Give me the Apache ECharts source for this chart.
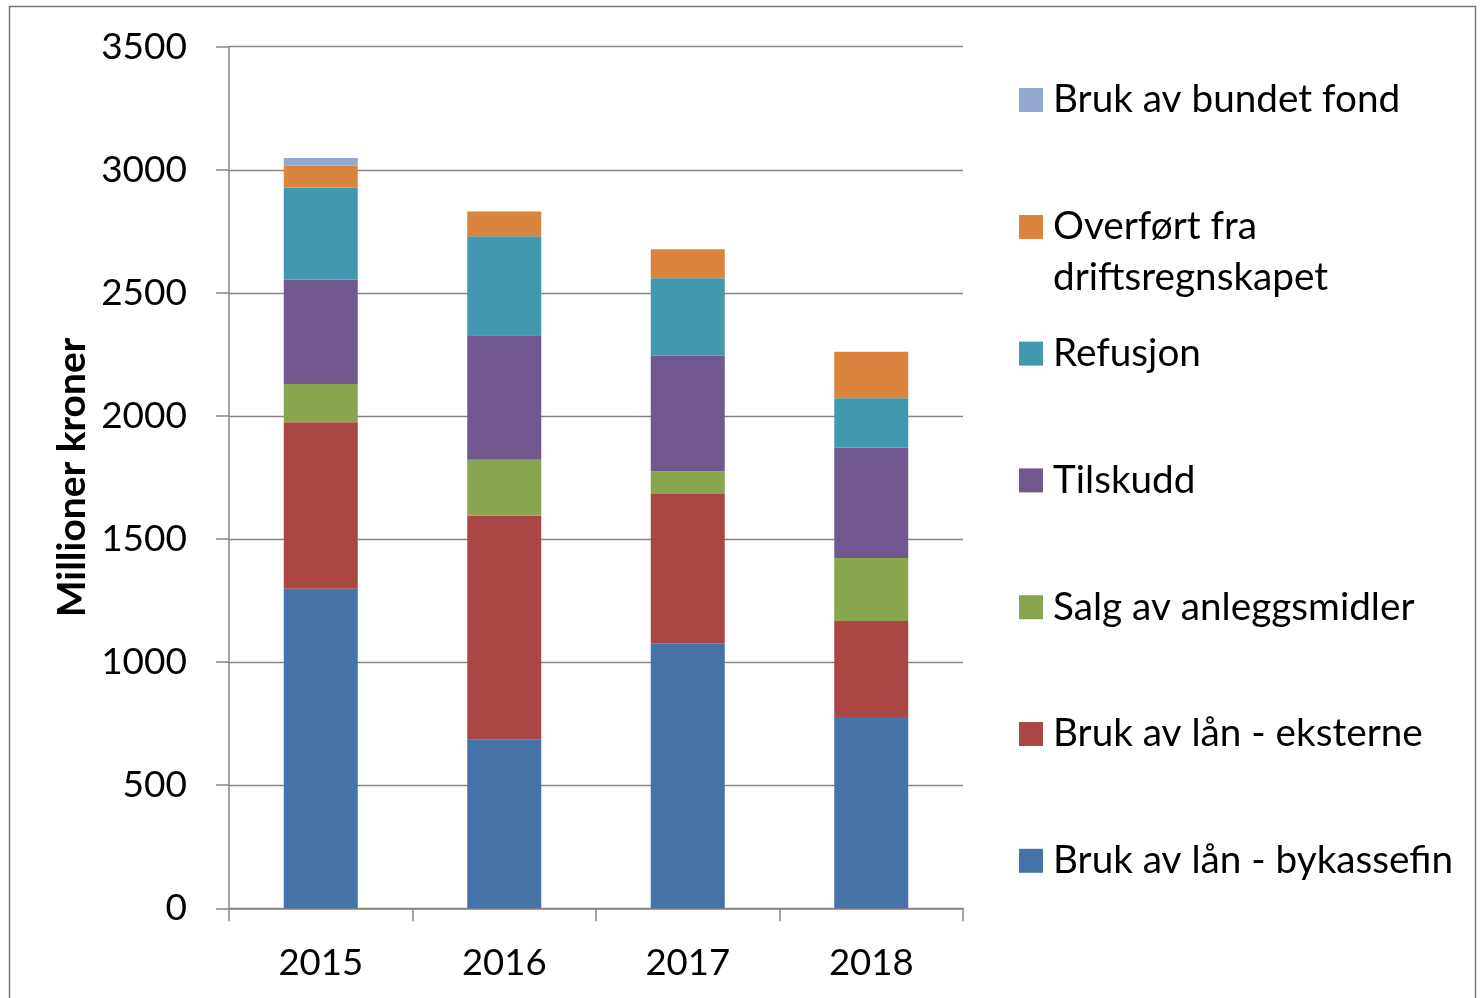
<!DOCTYPE html>
<html>
<head>
<meta charset="utf-8">
<script src="https://cdn.jsdelivr.net/npm/echarts@6/dist/echarts.min.js"></script>
<style>
  html, body { margin: 0; padding: 0; background: #ffffff; }
  #chart { width: 1481px; height: 998px; }
</style>
</head>
<body>
<div id="chart"></div>
<script>
// ---- data ----
const years = ['2015', '2016', '2017', '2018'];
const seriesNames = [
  'Bruk av lån - bykassefin',
  'Bruk av lån - eksterne',
  'Salg av anleggsmidler',
  'Tilskudd',
  'Refusjon',
  'Overført fra driftsregnskapet',
  'Bruk av bundet fond'
];
const bykassefin = [1298, 685, 1077, 777];
const eksterne   = [676, 910, 606, 390];
const salg       = [156, 227, 92, 256];
const tilskudd   = [424, 506, 470, 448];
const refusjon   = [373, 402, 314, 201];
const overfort   = [90, 101, 118, 189];
const bundetFond = [31, null, null, null];
const yTicks = [0, 500, 1000, 1500, 2000, 2500, 3000, 3500];

const seriesValues = [bykassefin, eksterne, salg, tilskudd, refusjon, overfort, bundetFond];
const colors = ['#4572A7', '#AA4643', '#89A54E', '#71588F', '#4198AF', '#DB843D', '#93A9CF'];

const FONT = 'Lato';
const chart = echarts.init(document.getElementById('chart'), null, { renderer: 'canvas' });

const series = seriesNames.map((name, i) => ({
  name: name,
  type: 'bar',
  stack: 'total',
  barWidth: 74,
  itemStyle: { color: colors[i] },
  emphasis: { disabled: true },
  data: seriesValues[i]
}));

// Legend: one component per entry, listed top-to-bottom in reverse series order
const legendCenters = [100, 227, 353.6, 480.4, 607.2, 734, 860.8];
const LH = 51;
const legendOrder = seriesNames.slice().reverse();
const legends = legendOrder.map((name, k) => {
  const twoLine = name === 'Overført fra driftsregnskapet';
  return {
    show: true,
    orient: 'vertical',
    left: 1019,
    top: twoLine ? legendCenters[k] - 1.5 * LH : legendCenters[k] - LH / 2,
    padding: 0,
    itemWidth: 24,
    itemHeight: 24,
    icon: 'rect',
    selectedMode: false,
    data: [name],
    // blank first line keeps the square level with the first text line
    formatter: twoLine ? function () { return ' \nOverført fra\ndriftsregnskapet'; } : undefined,
    textStyle: {
      fontFamily: FONT,
      fontSize: 38.7,
      color: '#000',
      lineHeight: LH,
      padding: [0, 0, 0, 5]
    }
  };
});

const option = {
  animation: false,
  backgroundColor: '#ffffff',
  color: colors,
  grid: { left: 229, right: 518, top: 46.7, bottom: 89.7, containLabel: false },
  legend: legends,
  xAxis: {
    type: 'category',
    data: years,
    axisLine: { show: true, lineStyle: { color: '#868686', width: 1.5 } },
    axisTick: { show: true, alignWithLabel: false, length: 13, lineStyle: { color: '#868686', width: 1.5 } },
    axisLabel: { fontFamily: FONT, fontSize: 36.5, color: '#000', margin: 36, lineHeight: 37 },
    splitLine: { show: false }
  },
  yAxis: {
    type: 'value',
    min: yTicks[0],
    max: yTicks[yTicks.length - 1],
    interval: 500,
    name: 'Millioner kroner',
    nameLocation: 'middle',
    nameGap: 137,
    nameTextStyle: { fontFamily: FONT, fontSize: 39, fontWeight: 'bold', color: '#000' },
    axisLine: { show: true, lineStyle: { color: '#868686', width: 1.5 } },
    axisTick: { show: true, inside: false, length: 13, lineStyle: { color: '#868686', width: 1.5 } },
    axisLabel: {
      fontFamily: FONT, fontSize: 37, color: '#000', margin: 42,
      formatter: function (v) { return String(v); }
    },
    splitLine: { show: true, lineStyle: { color: '#868686', width: 1.3 } }
  },
  graphic: [{
    type: 'rect',
    silent: true,
    shape: { x: 9.5, y: 6.5, width: 1466, height: 1100 },
    style: { fill: 'none', stroke: '#7a7a7a', lineWidth: 1.5 }
  }],
  series: series
};

chart.setOption(option);
</script>
</body>
</html>
